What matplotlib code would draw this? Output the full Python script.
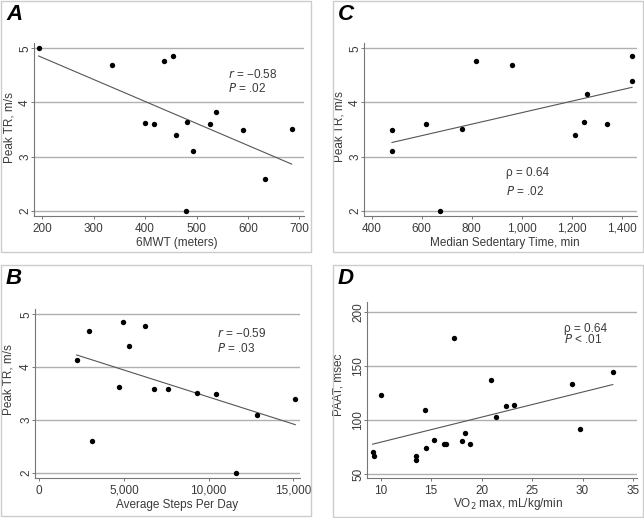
import matplotlib
matplotlib.use('Agg')
import matplotlib.pyplot as plt
from matplotlib.patches import Rectangle

plt.rcParams['font.family'] = ['Liberation Sans', 'DejaVu Sans']

# Panel A: 6MWT vs peak TR
a_x = [193, 336, 436, 454, 400, 417, 481, 460, 494, 526, 538, 591, 685, 633, 479]
a_y = [5.0, 4.70, 4.77, 4.86, 3.62, 3.60, 3.63, 3.40, 3.10, 3.60, 3.82, 3.50, 3.51, 2.59, 2.0]
a_line_x = [193, 685]
a_line_y = [4.86, 2.86]

# Panel B: steps per day vs peak TR
b_x = [2207, 2934, 3130, 4705, 4923, 5313, 6240, 6789, 7598, 9310, 10413, 11612, 12869, 15113]
b_y = [4.14, 4.69, 2.60, 3.63, 4.86, 4.40, 4.77, 3.59, 3.59, 3.51, 3.50, 2.0, 3.10, 3.40]
b_line_x = [2207, 15113]
b_line_y = [4.23, 2.91]

# Panel C: sedentary time vs peak TR
c_x = [481, 481, 617, 761, 818, 961, 674, 1214, 1248, 1262, 1341, 1441, 1441]
c_y = [3.50, 3.10, 3.60, 3.51, 4.77, 4.70, 2.0, 3.40, 3.63, 4.15, 3.60, 4.86, 4.40]
c_line_x = [481, 1441]
c_line_y = [3.26, 4.28]

# Panel D: VO2 max vs PAAT
d_x = [9.2, 9.3, 10.0, 13.5, 13.5, 14.4, 14.5, 15.3, 16.3, 16.5, 17.3, 18.1, 18.4,
       18.8, 20.9, 21.4, 22.4, 23.2, 29.0, 29.8, 33.0]
d_y = [70.9, 67.2, 123.3, 67.2, 63.5, 109.8, 74.2, 82.2, 77.9, 77.9, 176, 81.3, 88.3,
       77.9, 137.4, 102.8, 112.9, 113.8, 134, 91.7, 144.5]
d_line_x = [9.2, 33.0]
d_line_y = [77.9, 133.1]

W, H = 644, 518
fig = plt.figure(figsize=(W / 100, H / 100), dpi=100)

TXT = '#3a3a3a'
GRID = '#b0b0b0'


def px_axes(l, t, r, b):
    return fig.add_axes([l / W, 1 - b / H, (r - l) / W, (b - t) / H])


def style(ax, xlim, ylim, xticks, xlabels, yticks, xlabel, ylabel, xl_pos, yl_pos):
    ax.set_xlim(*xlim)
    ax.set_ylim(*ylim)
    ax.set_xticks(xticks)
    ax.set_xticklabels(xlabels)
    ax.set_yticks(yticks)
    ax.set_yticklabels([str(t) for t in yticks], rotation=90, va='center', ha='center')
    for s in ['top', 'right']:
        ax.spines[s].set_visible(False)
    for s in ['left', 'bottom']:
        ax.spines[s].set_color('#777777')
        ax.spines[s].set_linewidth(0.8)
    ax.tick_params(colors='#777777', labelcolor=TXT, labelsize=8.5, length=2.2, width=0.7)
    ax.tick_params(axis='x', pad=2.5)
    ax.tick_params(axis='y', pad=4.2)
    for t in yticks:
        ax.axhline(t, color=GRID, lw=1.0, zorder=0)
    ax.set_xlabel(xlabel, fontsize=8.5, color=TXT, va='center')
    ax.set_ylabel(ylabel, fontsize=8.5, color=TXT, va='center')
    ax.xaxis.set_label_coords(xl_pos[0] / W, 1 - xl_pos[1] / H, transform=fig.transFigure)
    ax.yaxis.set_label_coords(yl_pos[0] / W, 1 - yl_pos[1] / H, transform=fig.transFigure)


def panel(ax, x, y, lx, ly):
    ax.plot(lx, ly, color='#555555', lw=0.8, zorder=2)
    ax.scatter(x, y, s=15, color='black', linewidths=0, zorder=3, clip_on=False)


# boxes around panels
for (l, t, r, b) in [(1, 1, 311, 252), (333, 1, 643, 252), (1, 265, 311, 516), (333, 265, 643, 517)]:
    fig.patches.append(Rectangle((l / W, 1 - b / H), (r - l) / W, (b - t) / H,
                                 transform=fig.transFigure, fill=False,
                                 edgecolor='#cccccc', lw=1.0))

# A
axA = px_axes(34, 43, 304, 216)
style(axA, (184, 709), (1.9, 5.1), [200, 300, 400, 500, 600, 700],
      ['200', '300', '400', '500', '600', '700'], [2, 3, 4, 5],
      '6MWT (meters)', 'Peak TR, m/s', (177, 243), (10, 128))
panel(axA, a_x, a_y, a_line_x, a_line_y)
axA.text(562, 4.52, '$r$ = \u22120.58', fontsize=8.5, color=TXT, va='center')
axA.text(562, 4.26, '$P$ = .02', fontsize=8.5, color=TXT, va='center')

# C
axC = px_axes(364, 43, 637, 216)
style(axC, (369, 1461), (1.9, 5.1), [400, 600, 800, 1000, 1200, 1400],
      ['400', '600', '800', '1,000', '1,200', '1,400'], [2, 3, 4, 5],
      'Median Sedentary Time, min', 'Peak TR, m/s', (505, 243), (340, 127))
panel(axC, c_x, c_y, c_line_x, c_line_y)
axC.text(938, 2.69, '\u03c1 = 0.64', fontsize=8.5, color=TXT, va='center')
axC.text(938, 2.36, '$P$ = .02', fontsize=8.5, color=TXT, va='center')

# B
axB = px_axes(35, 309, 300, 478)
style(axB, (-250, 15390), (1.9, 5.1), [0, 5000, 10000, 15000],
      ['0', '5,000', '10,000', '15,000'], [2, 3, 4, 5],
      'Average Steps Per Day', 'Peak TR, m/s', (177, 505), (9, 380))
panel(axB, b_x, b_y, b_line_x, b_line_y)
axB.text(10508, 4.63, '$r$ = \u22120.59', fontsize=8.5, color=TXT, va='center')
axB.text(10508, 4.36, '$P$ = .03', fontsize=8.5, color=TXT, va='center')

# D
axD = px_axes(367, 302, 637, 478)
style(axD, (8.64, 35.4), (46.6, 209.5), [10, 15, 20, 25, 30, 35],
      ['10', '15', '20', '25', '30', '35'], [50, 100, 150, 200],
      'VO$_2$ max, mL/kg/min', 'PAAT, msec', (508, 504), (338, 385))
panel(axD, d_x, d_y, d_line_x, d_line_y)
axD.text(28.2, 184.7, '\u03c1 = 0.64', fontsize=8.5, color=TXT, va='center')
axD.text(28.2, 174.5, '$P$ < .01', fontsize=8.5, color=TXT, va='center')

# panel letters
for lbl, (x, y) in zip('ACBD', [(6, 14), (338, 14), (6, 279), (338, 279)]):
    fig.text(x / W, 1 - y / H, lbl, fontsize=16, fontweight='bold', fontstyle='italic',
             color='black', va='center', ha='left')

fig.savefig('out.png', dpi=100)
